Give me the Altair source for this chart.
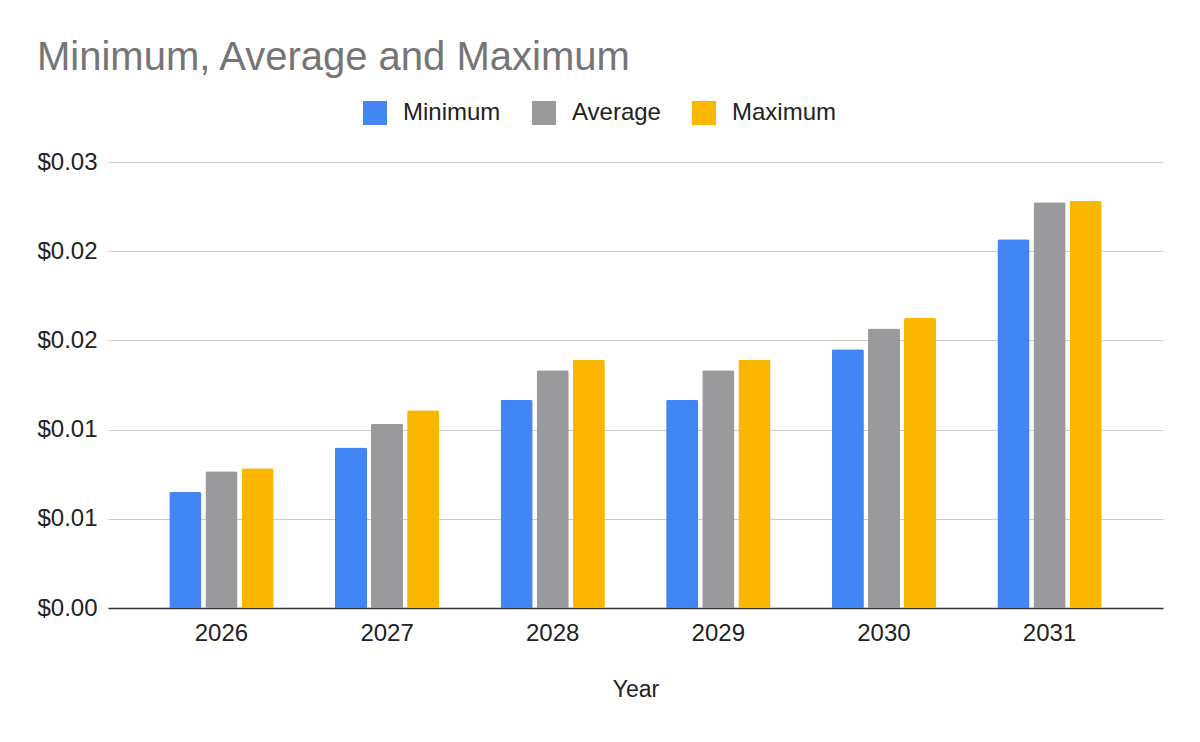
import altair as alt
import pandas as pd

years = ["2026", "2027", "2028", "2029", "2030", "2031"]
minimum = [0.0078, 0.0108, 0.0140, 0.0140, 0.0174, 0.0248]
average = [0.0092, 0.0124, 0.0160, 0.0160, 0.0188, 0.0273]
maximum = [0.0094, 0.0133, 0.0167, 0.0167, 0.0195, 0.0274]

series = ["Minimum", "Average", "Maximum"]
colors = ["#4285f4", "#9a999b", "#fbb700"]
y_ticks = [0, 0.006, 0.012, 0.018, 0.024, 0.03]

rows = []
for i, yr in enumerate(years):
    for name, vals in zip(series, [minimum, average, maximum]):
        rows.append({"Year": yr, "Series": name, "Value": vals[i]})
data = pd.DataFrame(rows)

FONT = "Liberation Sans"

bars = alt.Chart(data).mark_bar(cornerRadiusTopLeft=2, cornerRadiusTopRight=2).encode(
    x=alt.X('Year:N', title='Year',
            scale=alt.Scale(paddingInner=0.37, paddingOuter=0.37),
            axis=alt.Axis(labelAngle=0, ticks=False, domainColor='#333333', domainWidth=1.5,
                          labelFontSize=24, labelColor='#222222', labelPadding=13,
                          titleFontSize=23, titleFontWeight='normal', titleColor='#222222',
                          titlePadding=33)),
    xOffset=alt.XOffset('Series:N', sort=series, scale=alt.Scale(paddingInner=0.11)),
    y=alt.Y('Value:Q', title=None,
            scale=alt.Scale(domain=[0, 0.03], nice=False),
            axis=alt.Axis(values=y_ticks, format='$.2f', ticks=False, domain=False,
                          gridColor='#cccccc', labelFontSize=24, labelColor='#222222',
                          labelPadding=11)),
    color=alt.Color('Series:N', sort=series, title=None,
                    scale=alt.Scale(domain=series, range=colors),
                    legend=alt.Legend(orient='none', direction='horizontal',
                                      legendX=255, legendY=-61,
                                      symbolType='square', symbolSize=576,
                                      symbolStrokeWidth=0, labelFontSize=24,
                                      labelColor='#222222', labelOffset=16,
                                      columnPadding=31)),
).properties(
    width=1055,
    height=446,
    autosize=alt.AutoSizeParams(type="none"),
    padding={"left": 100, "top": 154, "right": 21, "bottom": 110},
    title=alt.TitleParams("Minimum, Average and Maximum", anchor='start', frame='group',
                          dx=-71, offset=23, fontSize=40, fontWeight='normal',
                          color='#757575', font=FONT),
)

chart = bars.configure(font=FONT).configure_view(stroke=None)

chart.save("out.html", embed_options={"renderer": "svg", "actions": False})
